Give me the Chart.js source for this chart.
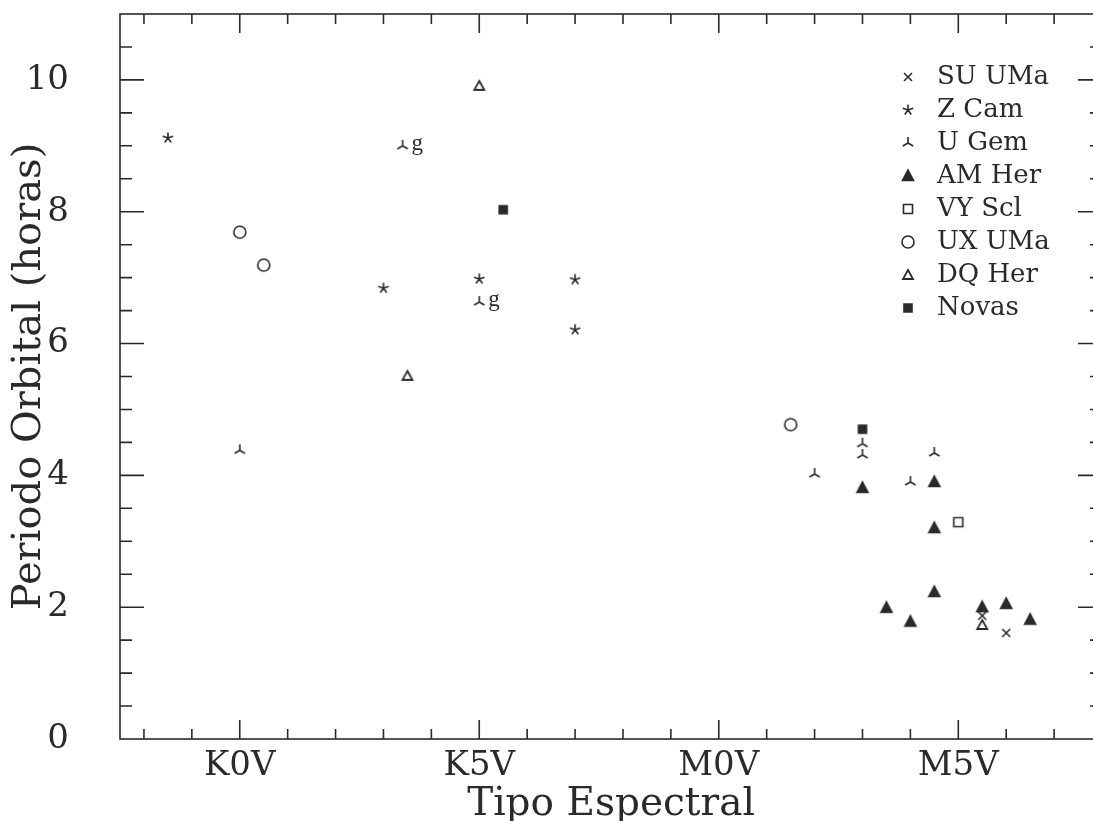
<!DOCTYPE html>
<html>
<head>
<meta charset="utf-8">
<script src="https://cdn.jsdelivr.net/npm/chart.js@4.4.1/dist/chart.umd.min.js"></script>
<style>
  html, body { margin: 0; padding: 0; background: #fff; overflow: hidden; }
  /* a little wider than the window: the right frame edge falls just outside, as in the original */
  #wrap { width: 1103px; height: 821px; }
</style>
</head>
<body>
<div id="wrap"><canvas id="myChart"></canvas></div>
<script>
// spectral type as a number: K0V = 0, K5V = 5, M0V = 10, M5V = 15
const spectralTicks = [0, 5, 10, 15];
const spectralLabels = ['K0V', 'K5V', 'M0V', 'M5V'];
const periodTicks = [0, 2, 4, 6, 8, 10];

const suUmaType = [15.5, 16];
const suUmaPeriod = [1.87, 1.61];

const zCamType = [-1.5, 3, 5, 7, 7];
const zCamPeriod = [9.12, 6.84, 6.98, 6.97, 6.21];

const uGemType = [0, 3.4, 5, 12, 13, 13, 14, 14.5];
const uGemPeriod = [4.38, 9.0, 6.63, 4.02, 4.48, 4.31, 3.9, 4.34];
const uGemNote = ['', 'g', 'g', '', '', '', '', ''];

const amHerType = [13, 14.5, 14.5, 14.5, 13.5, 14, 15.5, 16, 16.5];
const amHerPeriod = [3.81, 3.9, 3.2, 2.23, 1.99, 1.78, 2.0, 2.05, 1.81];

const vySclType = [15];
const vySclPeriod = [3.29];

const uxUmaType = [0, 0.5, 11.5];
const uxUmaPeriod = [7.69, 7.19, 4.77];

const dqHerType = [5, 3.5, 15.5];
const dqHerPeriod = [9.91, 5.51, 1.73];

const novasType = [5.5, 13];
const novasPeriod = [8.03, 4.7];

const ink = '#2a2a2a';
const serif = '"DejaVu Serif", serif';

function marker(kind) {
  const c = document.createElement('canvas');
  c.width = 16; c.height = 16;
  const g = c.getContext('2d');
  g.strokeStyle = ink;
  g.fillStyle = ink;
  g.lineWidth = 1.6;
  g.translate(8, 8);
  g.beginPath();
  if (kind === 'x') {
    g.moveTo(-4, -4); g.lineTo(4, 4);
    g.moveTo(4, -4); g.lineTo(-4, 4);
    g.stroke();
  } else if (kind === 'aster') {
    for (let k = 0; k < 5; k++) {
      const t = -Math.PI / 2 + k * 2 * Math.PI / 5;
      g.moveTo(0, 0); g.lineTo(5.5 * Math.cos(t), 5.5 * Math.sin(t));
    }
    g.stroke();
  } else if (kind === 'tripod') {
    [-90, 30, 150].forEach(d => {
      const t = d * Math.PI / 180;
      g.moveTo(0, 0); g.lineTo(6 * Math.cos(t), 6 * Math.sin(t));
    });
    g.stroke();
  } else if (kind === 'triFill') {
    g.moveTo(0, -6); g.lineTo(5.5, 4.5); g.lineTo(-5.5, 4.5); g.closePath();
    g.fill(); g.stroke();
  } else if (kind === 'triOpen') {
    g.moveTo(0, -5); g.lineTo(5, 4); g.lineTo(-5, 4); g.closePath();
    g.lineWidth = 1.8; g.stroke();
  } else if (kind === 'square') {
    g.rect(-4.5, -4.5, 9, 9); g.stroke();
  } else if (kind === 'squareFill') {
    g.rect(-4, -4, 8, 8); g.fill(); g.stroke();
  } else if (kind === 'circle') {
    g.arc(0, 0, 6, 0, Math.PI * 2); g.stroke();
  }
  return c;
}

function pts(xs, ys) {
  return xs.map((x, i) => ({x: x, y: ys[i]}));
}

function series(label, xs, ys, kind) {
  return {
    label: label,
    data: pts(xs, ys),
    pointStyle: marker(kind),
    pointRadius: 6,
    showLine: false
  };
}

// no automatic label padding around the plot box
function noPad(s) {
  s.paddingTop = 0; s.paddingBottom = 0;
  s.paddingLeft = 0; s.paddingRight = 0;
}

// box with inward ticks on all four sides
const frame = {
  id: 'frame',
  afterDraw(chart) {
    const {ctx, chartArea: a} = chart;
    const x = chart.scales.x, y = chart.scales.y;
    ctx.save();
    ctx.strokeStyle = ink;
    ctx.lineWidth = 1.6;
    ctx.strokeRect(a.left, a.top, a.right - a.left, a.bottom - a.top);
    ctx.beginPath();
    for (let v = -2; v < 18; v++) {
      const px = x.getPixelForValue(v);
      const len = v % 5 === 0 ? 19 : 10;
      ctx.moveTo(px, a.bottom); ctx.lineTo(px, a.bottom - len);
      ctx.moveTo(px, a.top); ctx.lineTo(px, a.top + len);
    }
    for (let v = 0.5; v < 11; v += 0.5) {
      const py = y.getPixelForValue(v);
      const len = v % 2 === 0 ? 24 : 12;
      ctx.moveTo(a.left, py); ctx.lineTo(a.left + len, py);
      ctx.moveTo(a.right, py); ctx.lineTo(a.right - len, py);
    }
    ctx.stroke();
    ctx.restore();
  }
};

const legendBox = {
  id: 'legendBox',
  afterDraw(chart) {
    const {ctx, chartArea: a} = chart;
    ctx.save();
    ctx.font = '26px ' + serif;
    ctx.fillStyle = ink;
    ctx.textBaseline = 'middle';
    chart.data.datasets.forEach((ds, i) => {
      const yy = a.top + 63 + i * 33;
      const img = ds.pointStyle;
      ctx.drawImage(img, a.right - 194 - img.width / 2, yy - img.height / 2);
      ctx.fillText(ds.label, a.right - 165, yy);
    });
    ctx.restore();
  }
};

const notes = {
  id: 'notes',
  afterDatasetsDraw(chart) {
    const ctx = chart.ctx;
    const meta = chart.getDatasetMeta(2);
    ctx.save();
    ctx.font = '23px "Liberation Serif", serif';
    ctx.fillStyle = ink;
    ctx.textBaseline = 'alphabetic';
    uGemNote.forEach((n, i) => {
      if (!n) return;
      const p = meta.data[i];
      ctx.fillText(n, p.x + 9, p.y + 4);
    });
    ctx.restore();
  }
};

const ctx = document.querySelector('#myChart');

const graphData = {
  type: 'scatter',
  data: {
    datasets: [
      series('SU UMa', suUmaType, suUmaPeriod, 'x'),
      series('Z Cam', zCamType, zCamPeriod, 'aster'),
      series('U Gem', uGemType, uGemPeriod, 'tripod'),
      series('AM Her', amHerType, amHerPeriod, 'triFill'),
      series('VY Scl', vySclType, vySclPeriod, 'square'),
      series('UX UMa', uxUmaType, uxUmaPeriod, 'circle'),
      series('DQ Her', dqHerType, dqHerPeriod, 'triOpen'),
      series('Novas', novasType, novasPeriod, 'squareFill')
    ]
  },
  options: {
    responsive: true,
    maintainAspectRatio: false,
    animation: false,
    layout: { autoPadding: false, padding: { left: 0, top: 14, right: 1, bottom: 0 } },
    plugins: {
      legend: { display: false },
      tooltip: { enabled: false }
    },
    scales: {
      x: {
        type: 'linear',
        min: -2.5,
        max: 18,
        grid: { display: false, drawTicks: false },
        border: { display: false },
        afterBuildTicks: s => { s.ticks = spectralTicks.map(v => ({value: v})); },
        afterFit: s => { s.height = 82; noPad(s); },
        ticks: {
          autoSkip: false,
          maxRotation: 0,
          padding: 7,
          color: ink,
          font: { family: serif, size: 34 },
          callback: v => spectralLabels[spectralTicks.indexOf(v)]
        },
        title: {
          display: true,
          text: 'Tipo Espectral',
          color: ink,
          font: { family: serif, size: 39, lineHeight: 1 },
          padding: { top: 0, bottom: -3 }
        }
      },
      y: {
        min: 0,
        max: 11,
        grid: { display: false, drawTicks: false },
        border: { display: false },
        afterBuildTicks: s => { s.ticks = periodTicks.map(v => ({value: v})); },
        afterFit: s => { s.width = 120; noPad(s); },
        ticks: {
          padding: 51,
          color: ink,
          font: { family: serif, size: 34 }
        },
        title: {
          display: true,
          text: 'Periodo Orbital (horas)',
          color: ink,
          font: { family: serif, size: 40, lineHeight: 1 },
          padding: { top: 10, bottom: 0 }
        }
      }
    }
  },
  plugins: [frame, legendBox, notes]
};

const myChart = new Chart(ctx, graphData);
</script>
</body>
</html>
